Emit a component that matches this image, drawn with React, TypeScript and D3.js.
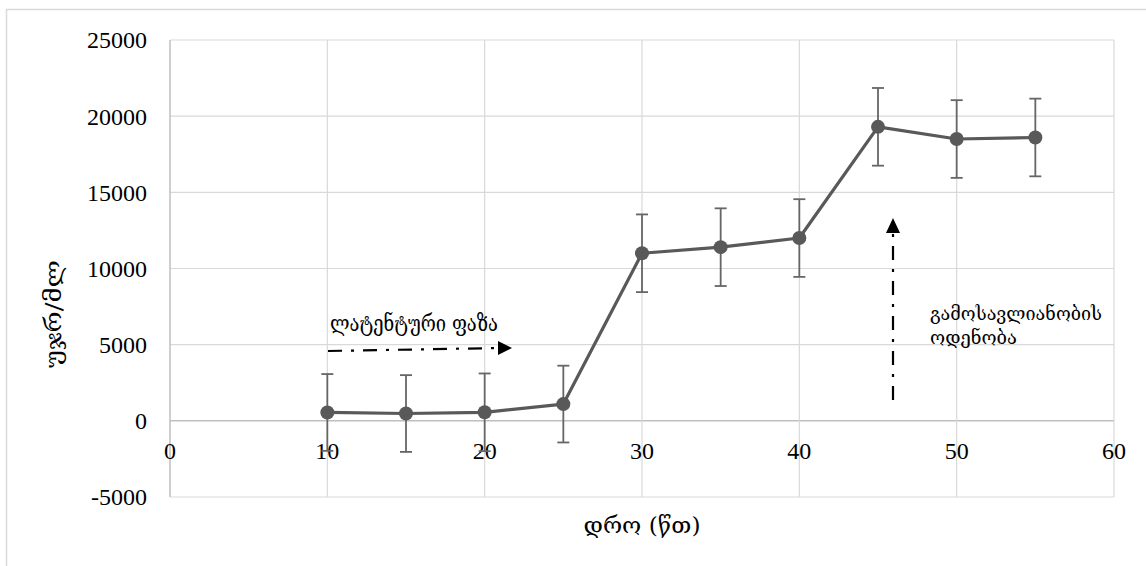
import React from "react";
import * as d3 from "d3";

const times = [10, 15, 20, 25, 30, 35, 40, 45, 50, 55];
const counts = [550, 480, 560, 1100, 11000, 11400, 12000, 19300, 18500, 18600];
const errors = [2520, 2520, 2550, 2520, 2550, 2550, 2550, 2550, 2550, 2550];
const xTicks = [0, 10, 20, 30, 40, 50, 60];
const yTicks = [-5000, 0, 5000, 10000, 15000, 20000, 25000];
const xTitle = "დრო (წთ)";
const yTitle = "უჯრ/მლ";
const latentLabel = "ლატენტური ფაზა";
const yieldLabel = ["გამოსავლიანობის", "ოდენობა"];

const W = 1146;
const H = 566;
const left = 170;
const right = 1114;
const top = 40;
const bottom = 497;

export default function App() {
  const x = d3.scaleLinear().domain([0, 60]).range([left, right]);
  const y = d3.scaleLinear().domain([-5000, 25000]).range([bottom, top]);
  const line = d3
    .line<number>()
    .x((_, i) => x(times[i]))
    .y((d) => y(d));
  const numFont = "Liberation Serif, serif";
  const geoFont = "DejaVu Serif, DejaVu Sans, serif";
  const dash = "14 9 3 9";
  return (
    <svg
      width={W}
      height={H}
      style={{ position: "absolute", left: 0, top: 0, background: "#fff" }}
    >
      <rect x={6.5} y={9.5} width={1300} height={700} fill="#fff" stroke="#d9d9d9" strokeWidth={1.5} />
      {/* grid */}
      {yTicks.map((t) => (
        <line
          key={"gy" + t}
          x1={left}
          x2={right}
          y1={y(t)}
          y2={y(t)}
          stroke={t === 0 ? "#bfbfbf" : "#d9d9d9"}
          strokeWidth={t === 0 ? 1.5 : 1.2}
        />
      ))}
      {xTicks.map((t) => (
        <line
          key={"gx" + t}
          x1={x(t)}
          x2={x(t)}
          y1={top}
          y2={bottom}
          stroke={t === 0 ? "#bfbfbf" : "#d9d9d9"}
          strokeWidth={t === 0 ? 1.5 : 1.2}
        />
      ))}
      {/* y tick labels */}
      {yTicks.map((t) => (
        <text
          key={"ly" + t}
          x={147}
          y={y(t)}
          dy="0.35em"
          textAnchor="end"
          fontFamily={numFont}
          fontSize={24}
          fill="#000"
        >
          {t}
        </text>
      ))}
      {/* x tick labels */}
      {xTicks.map((t) => (
        <text
          key={"lx" + t}
          x={x(t)}
          y={y(0) + 30}
          dy="0.35em"
          textAnchor="middle"
          fontFamily={numFont}
          fontSize={24}
          fill="#000"
        >
          {t}
        </text>
      ))}
      {/* error bars */}
      {counts.map((v, i) => {
        const cx = x(times[i]);
        const y1 = y(v + errors[i]);
        const y2 = y(v - errors[i]);
        return (
          <g key={"e" + i} stroke="#666666" strokeWidth={1.8}>
            <line x1={cx} x2={cx} y1={y1} y2={y2} />
            <line x1={cx - 6} x2={cx + 6} y1={y1} y2={y1} />
            <line x1={cx - 6} x2={cx + 6} y1={y2} y2={y2} />
          </g>
        );
      })}
      <path d={line(counts) || ""} fill="none" stroke="#595959" strokeWidth={3.2} strokeLinejoin="round" />
      {counts.map((v, i) => (
        <circle key={"p" + i} cx={x(times[i])} cy={y(v)} r={7} fill="#595959" />
      ))}
      {/* axis titles */}
      <text
        x={x(30)}
        y={533}
        textAnchor="middle"
        fontFamily={geoFont}
        fontSize={22}
        textLength={117}
        lengthAdjust="spacingAndGlyphs"
        fill="#000"
      >
        {xTitle}
      </text>
      <text
        transform={`translate(61,${314}) rotate(-90)`}
        textAnchor="middle"
        fontFamily={geoFont}
        fontSize={23}
        textLength={108}
        lengthAdjust="spacingAndGlyphs"
        fill="#000"
      >
        {yTitle}
      </text>
      {/* latent phase annotation */}
      <text
        x={330}
        y={331}
        fontFamily={geoFont}
        fontSize={23}
        textLength={168}
        lengthAdjust="spacingAndGlyphs"
        fill="#000"
      >
        {latentLabel}
      </text>
      <line x1={328} y1={351} x2={499} y2={348} stroke="#000" strokeWidth={2.2} strokeDasharray={dash} />
      <path d="M498,341 L512,348 L498,355 Z" fill="#000" />
      {/* yield annotation */}
      <line x1={893} y1={400} x2={893} y2={232} stroke="#000" strokeWidth={2.2} strokeDasharray={dash} />
      <path d="M886,233 L893,218 L900,233 Z" fill="#000" />
      <text
        x={930}
        y={320}
        fontFamily={geoFont}
        fontSize={19}
        textLength={172}
        lengthAdjust="spacingAndGlyphs"
        fill="#000"
      >
        {yieldLabel[0]}
      </text>
      <text
        x={930}
        y={344}
        fontFamily={geoFont}
        fontSize={19}
        textLength={87}
        lengthAdjust="spacingAndGlyphs"
        fill="#000"
      >
        {yieldLabel[1]}
      </text>
    </svg>
  );
}
